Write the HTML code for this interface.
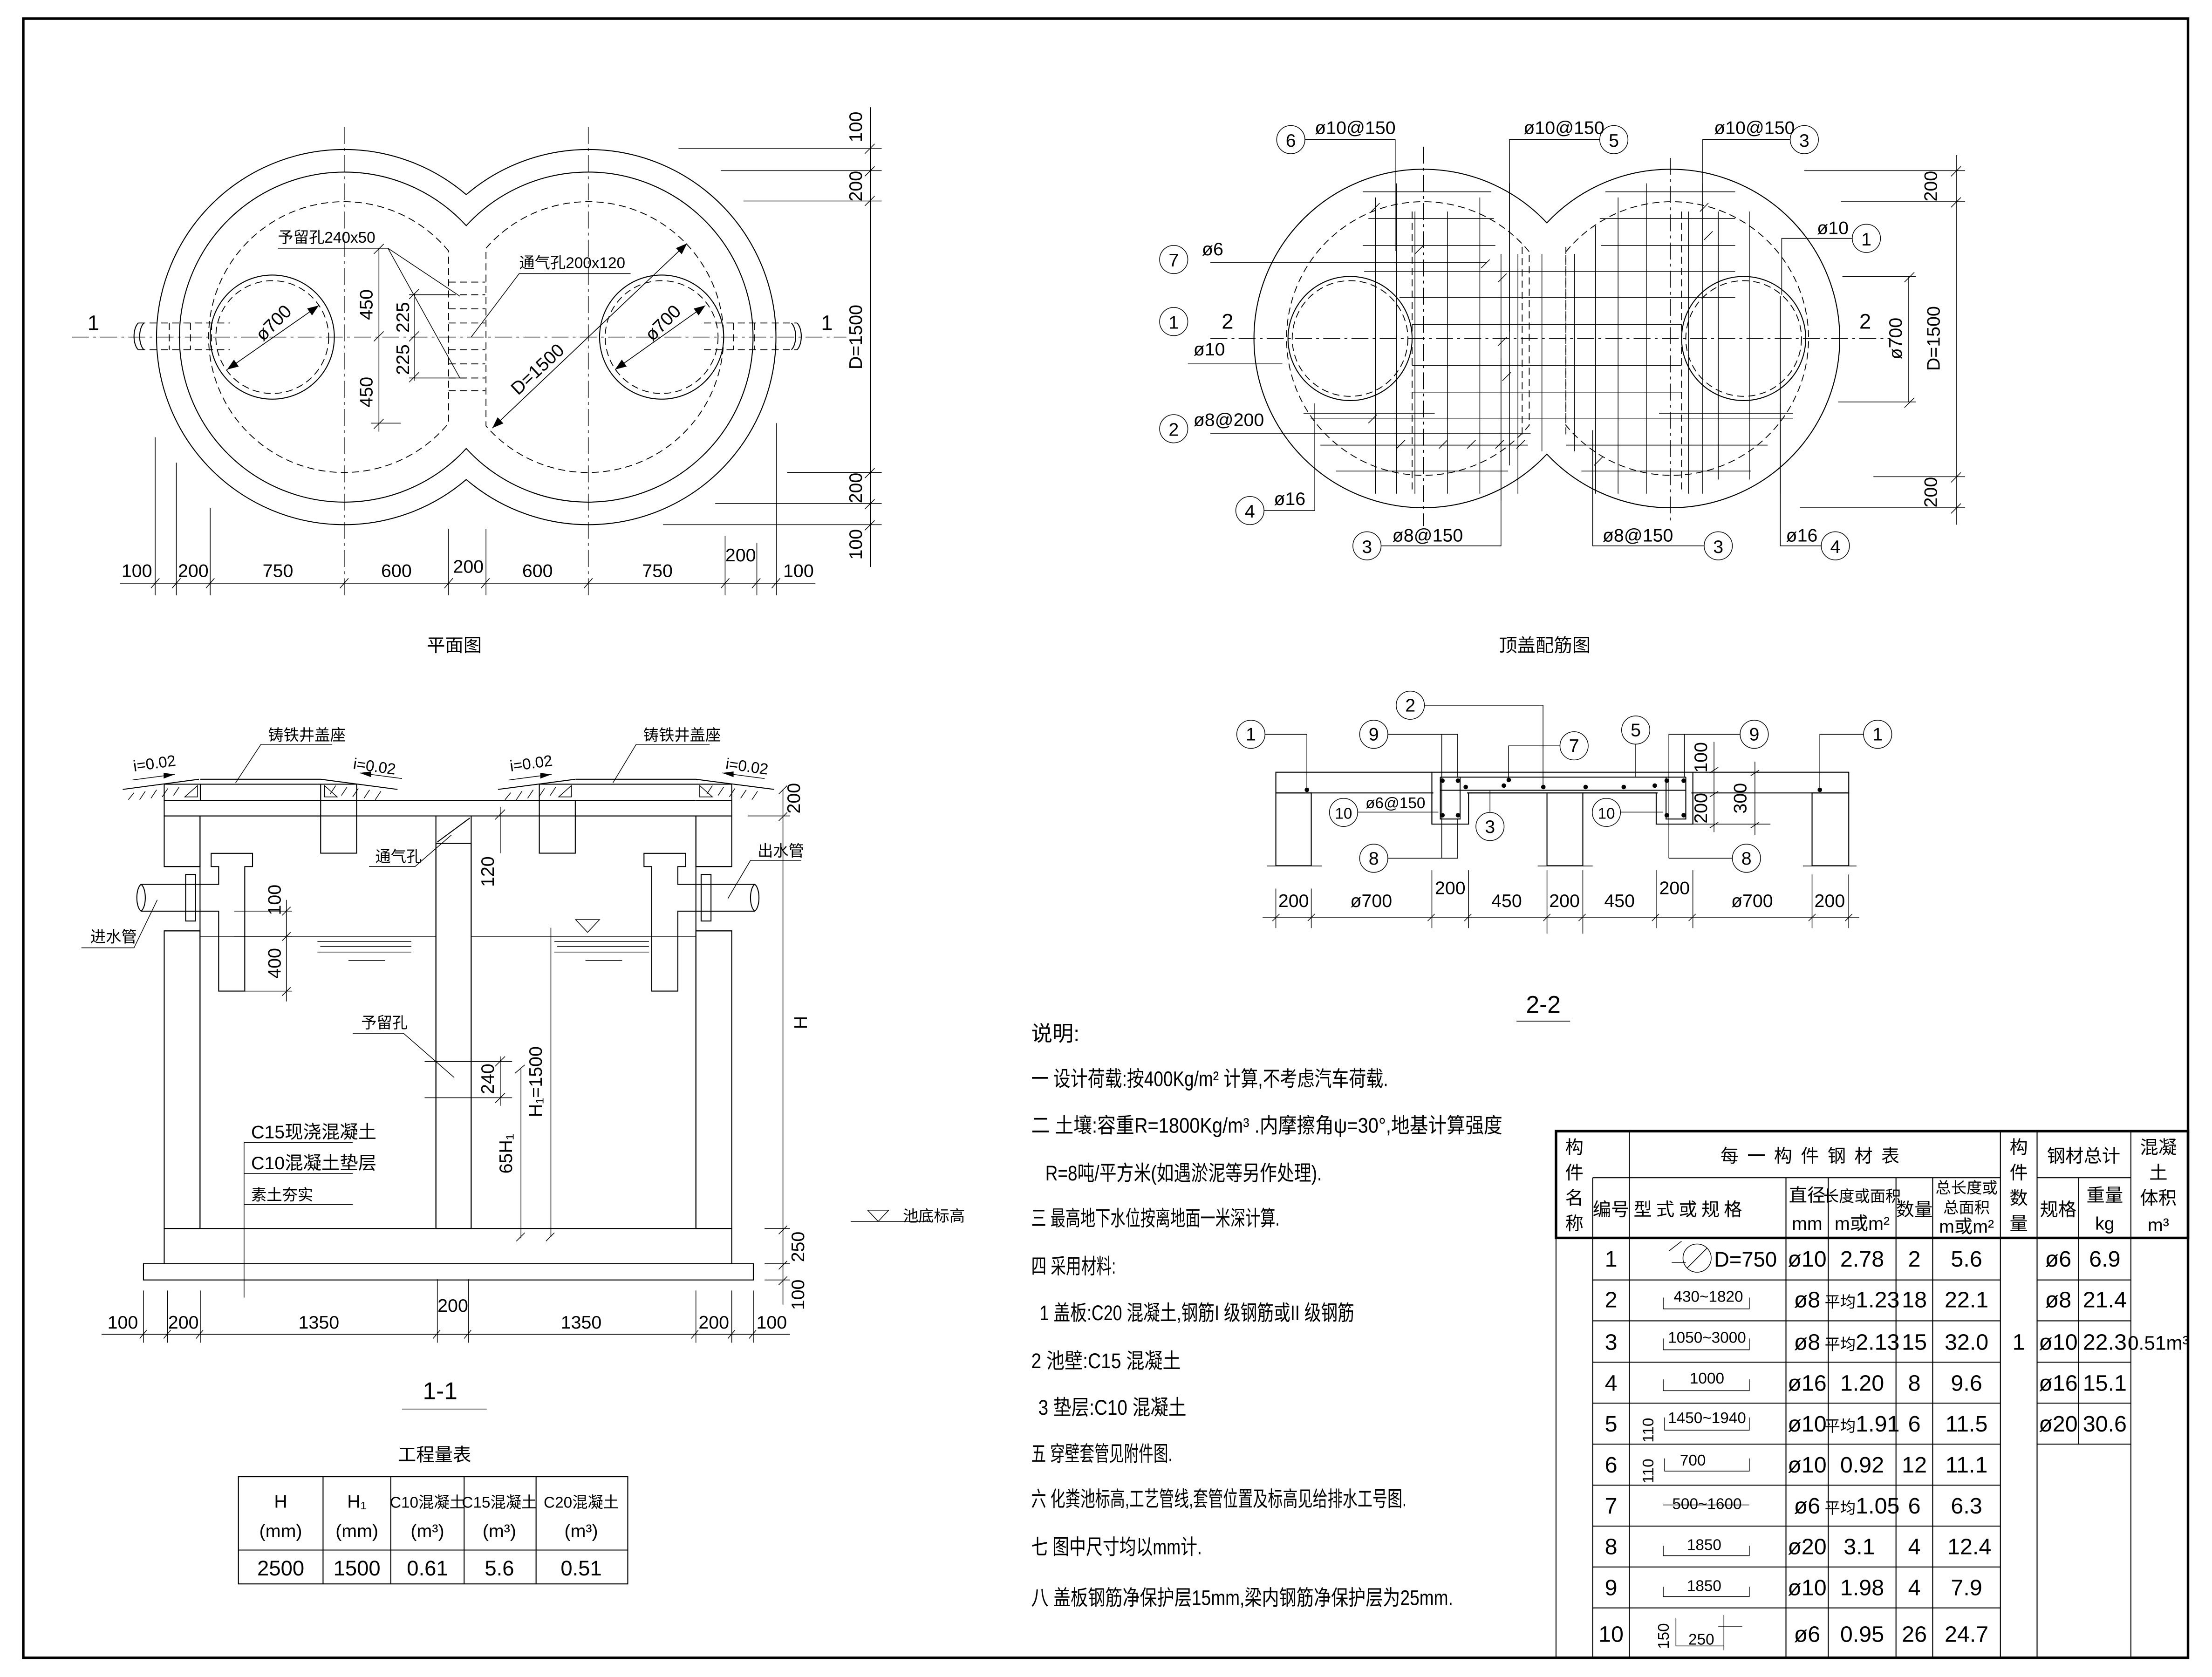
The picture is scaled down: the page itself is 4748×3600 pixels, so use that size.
<!DOCTYPE html>
<html><head><meta charset="utf-8"><style>
html,body{margin:0;padding:0;background:#fff}
svg{display:block}
text{font-family:"Liberation Sans","Noto Sans CJK SC",sans-serif;fill:#000}
.l{stroke:#000;stroke-width:.7;fill:none}
.t{stroke:#000;stroke-width:.5;fill:none}
.d{stroke:#000;stroke-width:.6;fill:none;stroke-dasharray:5 3}
.c{stroke:#000;stroke-width:.5;fill:none;stroke-dasharray:12 3 2 3}
.k{stroke:#000;stroke-width:1.8;fill:none}
.n{font-size:13px}
.s{font-size:11px}
.m{font-size:15px}
</style></head><body>
<svg width="4748" height="3600" viewBox="0 0 1568 1189" preserveAspectRatio="none" xmlns="http://www.w3.org/2000/svg">
<defs>
<pattern id="h" width="6" height="6" patternUnits="userSpaceOnUse" patternTransform="rotate(45)"><line x1="0" y1="0" x2="0" y2="6" stroke="#000" stroke-width=".7"/></pattern>
<pattern id="cc" width="10" height="10" patternUnits="userSpaceOnUse"><circle cx="2" cy="3" r=".55"/><circle cx="7" cy="5" r=".55"/><circle cx="4" cy="8.5" r=".55"/><circle cx="9" cy="9" r=".5"/><circle cx="5" cy="1" r=".45"/><path d="M6,1.5l2,0l-1,2z" fill="none" stroke="#000" stroke-width=".35"/><path d="M0.5,6l2,0l-1,2z" fill="none" stroke="#000" stroke-width=".35"/></pattern>
<marker id="ar" markerWidth="8" markerHeight="6" refX="8" refY="3" orient="auto" markerUnits="userSpaceOnUse"><path d="M0,0L8,3L0,6z"/></marker>
</defs>
<rect x="0" y="0" width="1568" height="1189" fill="#fff"/>
<rect x="16.5" y="13.2" width="1534.5" height="1162.2" class="k"/>

<!-- ================= PLAN VIEW ================= -->
<path class="l" d="M330.5,138 A133,133 0 1,0 330.5,340 A133,133 0 1,0 330.5,138Z"/>
<path class="l" d="M330.5,160 A117,117 0 1,0 330.5,318 A117,117 0 1,0 330.5,160Z"/>
<path class="d" d="M318,178 A96,96 0 1,0 318,300Z"/>
<path class="d" d="M344.5,176 A96,96 0 1,1 344.5,302Z"/>
<circle cx="193" cy="239" r="44" class="l"/><circle cx="193" cy="239" r="40" class="d"/>
<circle cx="469" cy="239" r="44" class="l"/><circle cx="469" cy="239" r="40" class="d"/>
<line x1="51" y1="239" x2="600" y2="239" class="c"/>
<line x1="244" y1="90" x2="244" y2="422" class="c"/>
<line x1="417" y1="90" x2="417" y2="422" class="c"/>
<path class="d" d="M98,229H163M98,248H163M120,229V248M135,229V248M150,229V248"/>
<path class="l" d="M98,229c-4,4-4,15,0,19M102,229c-4,4-4,15,0,19"/>
<path class="d" d="M499,229H565M499,248H565M520,229V248M535,229V248M550,229V248"/>
<path class="l" d="M565,229c4,4,4,15,0,19M561,229c4,4,4,15,0,19"/>
<path class="d" d="M318,200H344M318,209H344M318,219H344M318,229H344M318,248H344M318,258H344M318,268H344M318,277H344"/>
<line x1="268.6" y1="176" x2="268.6" y2="306" class="t"/>
<path class="t" d="M265,180l7,-7M265,242l7,-7M265,304l7,-7M263,300H284"/>
<text class="n" transform="translate(264,216) rotate(-90)" text-anchor="middle">450</text>
<text class="n" transform="translate(264,278) rotate(-90)" text-anchor="middle">450</text>
<line x1="294" y1="208" x2="294" y2="270" class="t"/>
<path class="t" d="M290,212l7,-7M290,242l7,-7M290,271l7,-7M290,268H330M290,209H320"/>
<text class="n" transform="translate(290,225) rotate(-90)" text-anchor="middle">225</text>
<text class="n" transform="translate(290,255) rotate(-90)" text-anchor="middle">225</text>
<text class="s" x="197" y="172">予留孔240x50</text>
<path class="t" d="M197,176H275L326,210M275,176L326,268"/>
<text class="s" x="368" y="190">通气孔200x120</text>
<path class="t" d="M447,194H368L334,239"/>
<line x1="349" y1="303.5" x2="487" y2="172.6" class="t" marker-end="url(#ar)"/>
<line x1="487" y1="172.6" x2="349" y2="303.5" class="t" marker-end="url(#ar)"/>
<text class="n" transform="translate(384,265) rotate(-43)" text-anchor="middle">D=1500</text>
<line x1="161" y1="262" x2="226" y2="216.6" class="t" marker-end="url(#ar)"/>
<line x1="226" y1="216.6" x2="161" y2="262" class="t" marker-end="url(#ar)"/>
<text class="n" transform="translate(197,232) rotate(-45)" text-anchor="middle">ø700</text>
<line x1="436" y1="262" x2="500" y2="216.6" class="t" marker-end="url(#ar)"/>
<line x1="500" y1="216.6" x2="436" y2="262" class="t" marker-end="url(#ar)"/>
<text class="n" transform="translate(473,232) rotate(-45)" text-anchor="middle">ø700</text>
<text class="m" x="62" y="234">1</text><text class="m" x="582" y="234">1</text>
<line x1="617" y1="76" x2="617" y2="402" class="t"/>
<path class="t" d="M481,105.4H625M511,121H625M527,142.5H625M558,335H625M507,357H625M470,372H625M613,109l7,-7M613,125l7,-7M613,146l7,-7M613,339l7,-7M613,361l7,-7M613,376l7,-7"/>
<text class="n" transform="translate(611,90) rotate(-90)" text-anchor="middle">100</text>
<text class="n" transform="translate(611,132) rotate(-90)" text-anchor="middle">200</text>
<text class="n" transform="translate(611,239) rotate(-90)" text-anchor="middle">D=1500</text>
<text class="n" transform="translate(611,346) rotate(-90)" text-anchor="middle">200</text>
<text class="n" transform="translate(611,386) rotate(-90)" text-anchor="middle">100</text>
<line x1="85" y1="413.5" x2="578" y2="413.5" class="t"/>
<path class="t" d="M110,310V422M125,328V422M149,360V422M318,375V422M344.5,375V422M514,380V422M536.5,385V422M550.5,300V422"/>
<path class="t" d="M107,417l6,-7M122,417l6,-7M146,417l6,-7M241,417l6,-7M315,417l6,-7M341,417l6,-7M414,417l6,-7M511,417l6,-7M533,417l6,-7M547,417l6,-7"/>
<g class="n" text-anchor="middle"><text x="97" y="409">100</text><text x="137" y="409">200</text><text x="197" y="409">750</text><text x="281" y="409">600</text><text x="332" y="406">200</text><text x="381" y="409">600</text><text x="466" y="409">750</text><text x="525" y="398">200</text><text x="566" y="409">100</text></g>
<text x="322" y="462" font-size="13" text-anchor="middle">平面图</text>

<!-- ================= REBAR PLAN ================= -->
<path class="l" d="M1096.5,158 A120,120 0 1,0 1096.5,322 A120,120 0 1,0 1096.5,158Z"/>
<path class="d" d="M1084,178.5 A97,97 0 1,0 1084,301.5Z"/>
<path class="d" d="M1110,178.5 A97,97 0 1,1 1110,301.5Z"/>
<circle cx="957" cy="240" r="44" class="l"/><circle cx="957" cy="240" r="41" class="d"/>
<circle cx="1236" cy="240" r="44" class="l"/><circle cx="1236" cy="240" r="41" class="d"/>
<line x1="858" y1="240" x2="1340" y2="240" class="c"/>
<line x1="1009" y1="104" x2="1009" y2="373" class="c"/>
<line x1="1184" y1="112" x2="1184" y2="371" class="c"/>
<g class="t">
<path d="M966,136H1057M970,155H1059M966,174H1060M858,186H1054M967,192.6H1230M992,211H1230M1001,230H1192M1001,259H1192M1001,278H1192M924,293H1017M1176,293H1271M929,297H1271M858,307.5H1085M936,315.6H1083M1110,315.6H1253M947,334H1069M1121,334H1241"/>
<path d="M1138,136H1230M1134,155H1230M1135,174H1230"/>
<path d="M975,140V350M990,130V350M1003,150V350M1026,150V350M1049,140V350M1064,180V355M1070,130V330M1076,180V350M1093,180V320M1116,180V320M1131,160V350M1147,140V350M1167,130V350M1197,150V350M1207,130V350M1218,150V340M1240,150V340M1262,210V350"/>
<path d="M972,150l6,-6M1003,180l6,-6M1050,190l6,-6M1062,200l6,-6M970,300l6,-6M990,318l6,-6M1020,318l6,-6M1040,318l6,-6M1060,318l6,-6M1075,318l6,-6M1130,330l6,-6M1205,150l6,-6M1208,170l6,-6M1062,245l6,-6M1065,270l6,-6"/>
</g>
<path class="d" d="M1001,150V350M1079,175V310M1110,175V310M1192,150V350"/>
<g class="t">
<circle cx="915" cy="99" r="10"/><path d="M925,99H989V178"/>
<circle cx="1144" cy="99" r="10"/><path d="M1134,99H1070V235"/>
<circle cx="1279" cy="99" r="10"/><path d="M1269,99H1207V177"/>
<circle cx="1323" cy="169" r="10"/><path d="M1313,169H1263V209"/>
<circle cx="832" cy="184" r="10"/>
<circle cx="832" cy="228" r="10"/><path d="M842,258H909"/>
<circle cx="832" cy="304" r="10"/>
<circle cx="886" cy="362" r="10"/><path d="M896,362H932V286"/>
<circle cx="969" cy="387" r="10"/><path d="M979,387H1064V254"/>
<circle cx="1218" cy="387" r="10"/><path d="M1208,387H1129V305"/>
<circle cx="1301" cy="387" r="10"/><path d="M1291,387H1262V286"/>
</g>
<g class="n" text-anchor="middle"><text x="915" y="104">6</text><text x="1144" y="104">5</text><text x="1279" y="104">3</text><text x="1323" y="174">1</text><text x="832" y="189">7</text><text x="832" y="233">1</text><text x="832" y="309">2</text><text x="886" y="367">4</text><text x="969" y="392">3</text><text x="1218" y="392">3</text><text x="1301" y="392">4</text></g>
<g class="n"><text x="932" y="95">ø10@150</text><text x="1080" y="95">ø10@150</text><text x="1215" y="95">ø10@150</text><text x="1288" y="166">ø10</text><text x="852" y="181">ø6</text><text x="846" y="252">ø10</text><text x="846" y="302">ø8@200</text><text x="903" y="358">ø16</text><text x="987" y="384">ø8@150</text><text x="1136" y="384">ø8@150</text><text x="1266" y="384">ø16</text></g>
<text class="m" x="866" y="233">2</text><text class="m" x="1318" y="233">2</text>
<line x1="1387" y1="110" x2="1387" y2="372" class="t"/>
<path class="t" d="M1279,121H1393M1305,143H1393M1328,338H1393M1276,360H1393M1383,125l7,-7M1383,147l7,-7M1383,342l7,-7M1383,364l7,-7"/>
<text class="n" transform="translate(1373,132) rotate(-90)" text-anchor="middle">200</text>
<text class="n" transform="translate(1375,240) rotate(-90)" text-anchor="middle">D=1500</text>
<text class="n" transform="translate(1373,349) rotate(-90)" text-anchor="middle">200</text>
<line x1="1353" y1="196" x2="1353" y2="285" class="t"/>
<path class="t" d="M1306,196H1358M1303,285H1358M1350,200l7,-7M1350,289l7,-7"/>
<text class="n" transform="translate(1348,240) rotate(-90)" text-anchor="middle">ø700</text>
<text x="1095" y="462" font-size="13" text-anchor="middle">顶盖配筋图</text>

<!-- ================= SECTION 1-1 ================= -->
<rect x="116.4" y="567.5" width="402.3" height="11" fill="url(#h)" class="l"/>
<rect x="142" y="567.6" width="85.3" height="10.8" fill="#fff"/>
<rect x="408" y="567.6" width="85.3" height="10.8" fill="#fff"/>
<path class="l" d="M142,567.5H227M142,578.5H227M408,567.5H493M408,578.5H493"/>
<rect x="227.3" y="567.5" width="25.5" height="37.4" fill="url(#h)" class="l"/>
<rect x="382.3" y="567.5" width="25.5" height="37.4" fill="url(#h)" class="l"/>
<rect x="116.4" y="578.5" width="25.4" height="35.9" fill="url(#cc)" class="l"/>
<rect x="116.4" y="660" width="25.4" height="211" fill="url(#cc)" class="l"/>
<rect x="493.3" y="578.5" width="25.4" height="35.9" fill="url(#cc)" class="l"/>
<rect x="493.3" y="660" width="25.4" height="211" fill="url(#cc)" class="l"/>
<rect x="309" y="598" width="25" height="273" fill="url(#cc)" class="l"/>
<path class="l" d="M309,578.5V598M334,578.5V598M310,597L333,580"/>
<rect x="116.4" y="871" width="402.3" height="25" fill="url(#cc)" class="l"/>
<rect x="141.8" y="870" width="167.2" height="2" fill="#fff"/><rect x="334" y="870" width="159.3" height="2" fill="#fff"/>
<path class="l" d="M141.8,871H309M334,871H493.3M141.8,578.5V871M493.3,578.5V871M309,598V871M334,598V871"/>
<rect x="101.7" y="896" width="432.3" height="11.5" fill="url(#cc)" class="l"/>
<path class="l" d="M142,552.5H227.3M142,556H227.3M408,552.5H493.3M408,556H493.3M116.4,567.5V556H142V567.5M227.3,567.5V556M252.8,567.5V556H227.3M382.3,567.5V556H408M493.3,556H518.7V567.5"/>
<path class="t" d="M131,565l9,-8v8zM230,565l0,-8l9,8zM396,565l9,-8v8zM496,565l0,-8l9,8z"/>
<path class="l" d="M87,559.7L141,552.5M227.3,552.5L281.8,559.7M353,559.7L407.8,552.5M493.3,552.5L548.8,559.7"/>
<path class="t" d="M95,562l-4,5M103,561l-4,6M111,560l-4,6M119,559l-4,6M127,558l-4,6M238,557l-4,6M246,558l-4,6M254,559l-4,6M262,560l-4,6M270,561l-4,6M362,562l-4,5M370,561l-4,6M378,560l-4,6M386,559l-4,6M394,558l-4,6M505,557l-4,6M513,558l-4,6M521,559l-4,6M529,560l-4,6M537,561l-4,6"/>
<g class="s"><text transform="translate(95,547) rotate(-8)">i=0.02</text><text transform="translate(250,545) rotate(8)">i=0.02</text><text transform="translate(362,547) rotate(-8)">i=0.02</text><text transform="translate(514,545) rotate(8)">i=0.02</text></g>
<path class="t" d="M94,553L124,549M255,548L285,552M361,553L391,549M512,548L542,552"/>
<path d="M124,549l-8,-1v4zM255,548l8,3v-4zM391,549l-8,-1v4zM512,548l8,3v-4z"/>
<text class="s" x="190" y="525">铸铁井盖座</text><text class="s" x="456" y="525">铸铁井盖座</text>
<path class="t" d="M185,527.7H235.5M185,527.7L167,555M451,527.7H503M451,527.7L434.5,555"/>
<path class="l" d="M100,627H155V614.4H149.7V605H179V614.4H173.5V702.7H155V646H100"/>
<path class="l" d="M100,627c-4,3-4,16,0,19c4,-3,4,-16,0,-19"/>
<rect x="131.6" y="620" width="7" height="33" class="l" fill="#fff"/>
<path class="l" d="M535,627H480.5V614.4H486V605H456.5V614.4H462V702.7H480.5V646H535"/>
<path class="l" d="M535,627c-4,3-4,16,0,19c4,-3,4,-16,0,-19"/>
<rect x="497" y="620" width="7" height="33" class="l" fill="#fff"/>
<path class="l" d="M116.4,614.4H141.8M116.4,660H141.8M493.3,614.4H518.7M493.3,660H518.7"/>
<path class="t" d="M142,663.8H309M334,663.8H493.3M225,667.5H291.6M227,671H291.6M225,675H291.6M247,681H273M393,667.5H460M395,671H460M393,675H460M415,681H441"/>
<path class="t" d="M408,652H425L416.5,661z"/>
<path class="t" d="M203,638V710M166,646H207M166,663.8H207M166,702.7H207M200,649l6,-6M200,667l6,-6M200,706l6,-6"/>
<text class="n" transform="translate(199,638) rotate(-90)" text-anchor="middle">100</text>
<text class="n" transform="translate(199,683) rotate(-90)" text-anchor="middle">400</text>
<path class="t" d="M354.6,572V605M351,581l7,-7"/>
<text class="n" transform="translate(350,618) rotate(-90)" text-anchor="middle">120</text>
<path class="t" d="M354.6,749V784M301,752.6H363M301,778.3H363M351,756l7,-7M351,782l7,-7"/>
<text class="n" transform="translate(350,765) rotate(-90)" text-anchor="middle">240</text>
<path class="t" d="M369.3,758V878M366,880l6,-6M365,761l7,-6M390.5,657.8V877M387,880l6,-6"/>
<text class="n" transform="translate(384,767) rotate(-90)" text-anchor="middle">H₁=1500</text>
<text class="n" transform="translate(363,818) rotate(-90)" text-anchor="middle">65H₁</text>
<text class="s" x="256" y="729">予留孔</text><path class="t" d="M250,732.6H286L322,764"/>
<text class="s" x="266" y="611">通气孔</text><path class="t" d="M261.6,614.4H294.2L320,592"/>
<text class="s" x="64" y="668">进水管</text><path class="t" d="M57.7,672H95L111.5,638"/>
<text class="s" x="537" y="607">出水管</text><path class="t" d="M532,610H568M532,610L516,637"/>
<text class="n" x="178" y="807">C15现浇混凝土</text>
<text class="n" x="178" y="829">C10混凝土垫层</text>
<text class="s" x="178" y="851">素土夯实</text>
<path class="t" d="M173,810H250M173,832H250M173,854H250M173,810V920"/>
<path class="t" d="M555,560V925M542,871H560M542,896H560M542,907.5H560M530,578.5H560M552,563l6,-6M552,582l6,-6M552,875l6,-6M552,900l6,-6M552,911l6,-6"/>
<text class="n" transform="translate(567,566) rotate(-90)" text-anchor="middle">200</text>
<text class="n" transform="translate(572,725) rotate(-90)" text-anchor="middle">H</text>
<text class="n" transform="translate(570,884) rotate(-90)" text-anchor="middle">250</text>
<text class="n" transform="translate(570,918) rotate(-90)" text-anchor="middle">100</text>
<path class="t" d="M603,866H660M615,858H630L622.5,866z"/>
<text class="s" x="640" y="866">池底标高</text>
<path class="t" d="M72,946H560M101.7,915V952M118.7,915V952M142,915V952M310,907V952M332,907V952M493.3,915V952M518.7,915V952M534,915V952"/>
<path class="t" d="M99,949l5,-6M116,949l5,-6M139,949l5,-6M307,949l5,-6M329,949l5,-6M490,949l5,-6M516,949l5,-6M531,949l5,-6"/>
<g class="n" text-anchor="middle"><text x="87" y="942">100</text><text x="130" y="942">200</text><text x="226" y="942">1350</text><text x="321" y="930">200</text><text x="412" y="942">1350</text><text x="506" y="942">200</text><text x="547" y="942">100</text></g>
<text x="312" y="992" font-size="17" text-anchor="middle">1-1</text>
<line x1="285" y1="999" x2="345" y2="999" class="t"/>
<text x="308" y="1036" font-size="13" text-anchor="middle">工程量表</text>
<path class="l" d="M169,1047H445V1123H169ZM169,1099H445M229,1047V1123M277,1047V1123M329,1047V1123M380,1047V1123"/>
<g class="n" text-anchor="middle">
<text x="199" y="1069">H</text><text x="199" y="1090">(mm)</text>
<text x="253" y="1069">H₁</text><text x="253" y="1090">(mm)</text>
<text x="303" y="1069" font-size="11">C10混凝土</text><text x="303" y="1090">(m³)</text>
<text x="354" y="1069" font-size="11">C15混凝土</text><text x="354" y="1090">(m³)</text>
<text x="412" y="1069" font-size="11">C20混凝土</text><text x="412" y="1090">(m³)</text>
<text x="199" y="1117" font-size="15">2500</text><text x="253" y="1117" font-size="15">1500</text><text x="303" y="1117" font-size="15">0.61</text><text x="354" y="1117" font-size="15">5.6</text><text x="412" y="1117" font-size="15">0.51</text>
</g>

<!-- ================= SECTION 2-2 ================= -->
<rect x="904.4" y="547.5" width="406.1" height="14.7" class="l"/>
<rect x="904.4" y="562.2" width="25.1" height="51.6" fill="url(#cc)" class="l"/>
<rect x="1096.6" y="562.2" width="25.4" height="51.6" fill="url(#cc)" class="l"/>
<rect x="1284.5" y="562.2" width="26" height="51.6" fill="url(#cc)" class="l"/>
<rect x="1015" y="562.2" width="26" height="22.1" fill="#fff" class="l"/>
<rect x="1174" y="562.2" width="26" height="22.1" fill="#fff" class="l"/>
<rect x="1016" y="560.6" width="24" height="3" fill="#fff"/><rect x="1175" y="560.6" width="24" height="3" fill="#fff"/>
<path class="l" d="M1015,547.5V584.3M1200,547.5V584.3M1041,562.2H1096.6M1122,562.2H1174"/>
<path class="l" d="M1021,551H1195M1021,560.3H1195M1021,551V580.7H1035V551M1181,551V580.7H1195V551"/>
<g><circle cx="1022.5" cy="553.5" r="1.6"/><circle cx="1033.5" cy="553.5" r="1.6"/><circle cx="1022.5" cy="578" r="1.6"/><circle cx="1033.5" cy="578" r="1.6"/><circle cx="1181.5" cy="553.5" r="1.6"/><circle cx="1193.5" cy="553.5" r="1.6"/><circle cx="1181.5" cy="578" r="1.6"/><circle cx="1193.5" cy="578" r="1.6"/><circle cx="1039" cy="558" r="1.6"/><circle cx="1069.5" cy="553" r="1.6"/><circle cx="1066" cy="557" r="1.6"/><circle cx="1094" cy="558" r="1.6"/><circle cx="1124" cy="558" r="1.6"/><circle cx="1151" cy="558" r="1.6"/><circle cx="1173" cy="557" r="1.6"/><circle cx="926.4" cy="560" r="1.6"/><circle cx="1290" cy="560" r="1.6"/></g>
<path class="t" d="M898,614H937M1090,614H1129M1278,614H1316"/>
<g class="t">
<circle cx="886.7" cy="520.6" r="10"/><path d="M896.7,520.6H926.4V560"/>
<circle cx="973.8" cy="520.6" r="10"/><path d="M983.8,520.6H1033.3V551M1022,520.6V608.5"/>
<circle cx="999.7" cy="500" r="10"/><path d="M1009.7,500H1093.8V557.7"/>
<circle cx="1115.8" cy="528.8" r="10"/><path d="M1105.8,528.8H1069.4V551.8"/>
<circle cx="1159.5" cy="517.6" r="10"/><path d="M1159.5,527.6V551"/>
<circle cx="1243.5" cy="520.6" r="10"/><path d="M1233.5,520.6H1183V608.5M1194,520.6V551"/>
<circle cx="1331" cy="520.6" r="10"/><path d="M1321,520.6H1290V560"/>
<circle cx="952.4" cy="576" r="10"/><path d="M962.4,575.8H1019.6"/>
<circle cx="1056.2" cy="586" r="10"/><path d="M1056.2,576V560.3"/>
<circle cx="1138.7" cy="576" r="10"/><path d="M1148.7,575.8H1179"/>
<circle cx="973.8" cy="608.5" r="10"/><path d="M983.8,608.5H1033.3V580.7"/>
<circle cx="1238" cy="608.5" r="10"/><path d="M1228,608.5H1183"/>
</g>
<g class="n" text-anchor="middle"><text x="886.7" y="525">1</text><text x="973.8" y="525">9</text><text x="999.7" y="504.5">2</text><text x="1115.8" y="533">7</text><text x="1159.5" y="522">5</text><text x="1243.5" y="525">9</text><text x="1331" y="525">1</text><text x="952.4" y="580.5" font-size="11">10</text><text x="1056.2" y="590.5">3</text><text x="1138.7" y="580.5" font-size="11">10</text><text x="973.8" y="613">8</text><text x="1238" y="613">8</text></g>
<text class="s" x="968" y="573">ø6@150</text>
<path class="t" d="M1215,526V590M1244,540V592M1200,584.3H1255M1212,548l6,-4M1212,565l6,-4M1212,587l6,-4M1241,550l6,-4M1241,587l6,-4"/>
<text class="n" transform="translate(1210,537) rotate(-90)" text-anchor="middle">100</text>
<text class="n" transform="translate(1210,573) rotate(-90)" text-anchor="middle">200</text>
<text class="n" transform="translate(1238,566) rotate(-90)" text-anchor="middle">300</text>
<path class="t" d="M895,650.3H1318M904.4,630V658M929.5,630V658M1015,617V658M1041,617V658M1096.6,617V662M1122,617V662M1174,617V658M1200,617V658M1284.5,620V658M1310.5,620V658"/>
<path class="t" d="M902,653l5,-5M927,653l5,-5M1012,653l5,-5M1038,653l5,-5M1094,653l5,-5M1119,653l5,-5M1171,653l5,-5M1197,653l5,-5M1282,653l5,-5M1308,653l5,-5"/>
<g class="n" text-anchor="middle"><text x="917" y="643">200</text><text x="972" y="643">ø700</text><text x="1028" y="634">200</text><text x="1068" y="643">450</text><text x="1109" y="643">200</text><text x="1148" y="643">450</text><text x="1187" y="634">200</text><text x="1242" y="643">ø700</text><text x="1297" y="643">200</text></g>
<text x="1094" y="718" font-size="17" text-anchor="middle">2-2</text>
<line x1="1075" y1="724" x2="1113" y2="724" class="t"/>

<!-- ================= NOTES ================= -->
<g font-size="15">
<text x="731" y="738">说明:</text>
<text x="731" y="770" textLength="253" lengthAdjust="spacingAndGlyphs">一 设计荷载:按400Kg/m² 计算,不考虑汽车荷载.</text>
<text x="731" y="803" textLength="334" lengthAdjust="spacingAndGlyphs">二 土壤:容重R=1800Kg/m³ .内摩擦角ψ=30°,地基计算强度</text>
<text x="741" y="837" textLength="196" lengthAdjust="spacingAndGlyphs">R=8吨/平方米(如遇淤泥等另作处理).</text>
<text x="731" y="869" textLength="176" lengthAdjust="spacingAndGlyphs">三 最高地下水位按离地面一米深计算.</text>
<text x="731" y="903" textLength="60" lengthAdjust="spacingAndGlyphs">四 采用材料:</text>
<text x="737" y="936" textLength="223" lengthAdjust="spacingAndGlyphs">1 盖板:C20 混凝土,钢筋I 级钢筋或II 级钢筋</text>
<text x="731" y="970" textLength="106" lengthAdjust="spacingAndGlyphs">2 池壁:C15 混凝土</text>
<text x="736" y="1003" textLength="105" lengthAdjust="spacingAndGlyphs">3 垫层:C10 混凝土</text>
<text x="731" y="1036" textLength="100" lengthAdjust="spacingAndGlyphs">五 穿壁套管见附件图.</text>
<text x="731" y="1068" textLength="266" lengthAdjust="spacingAndGlyphs">六 化粪池标高,工艺管线,套管位置及标高见给排水工号图.</text>
<text x="731" y="1102" textLength="121" lengthAdjust="spacingAndGlyphs">七 图中尺寸均以mm计.</text>
<text x="731" y="1138" textLength="299" lengthAdjust="spacingAndGlyphs">八 盖板钢筋净保护层15mm,梁内钢筋净保护层为25mm.</text>
</g>

<!-- ================= STEEL TABLE ================= -->
<g class="l">
<path d="M1103,1175.4V802H1551M1129,835V1175.4M1155,802V1175.4M1266,835V1175.4M1296,835V1175.4M1344,835V1175.4M1370,835V1175.4M1418,802V1175.4M1444,802V1175.4M1473.5,835V1023.9M1510.5,802V1175.4M1129,835H1418M1444,835H1510.5"/>
<path d="M1129,907.5H1418M1129,936.5H1418M1129,965.8H1418M1129,994.8H1418M1129,1023.9H1418M1129,1053H1418M1129,1082H1418M1129,1111H1418M1129,1140H1418"/>
<path d="M1444,907.5H1510.5M1444,936.5H1510.5M1444,965.8H1510.5M1444,994.8H1510.5M1444,1023.9H1510.5"/>
</g>
<path class="k" d="M1103,802H1551V877.7H1103ZM1103,1175.4H1551"/>
<g font-size="13" text-anchor="middle">
<text x="1116" y="818">构</text><text x="1116" y="836">件</text><text x="1116" y="854">名</text><text x="1116" y="872">称</text>
<text x="1431" y="818">构</text><text x="1431" y="836">件</text><text x="1431" y="854">数</text><text x="1431" y="872">量</text>
<text x="1286" y="824" letter-spacing="6">每一构件钢材表</text>
<text x="1142" y="862">编号</text>
<text x="1198" y="862" letter-spacing="3">型式或规格</text>
<text x="1281" y="852">直径</text><text x="1281" y="872">mm</text>
<text x="1320" y="852" font-size="11">长度或面积</text><text x="1320" y="872">m或m²</text>
<text x="1357" y="862">数量</text>
<text x="1394" y="846" font-size="11">总长度或</text><text x="1394" y="860" font-size="11">总面积</text><text x="1394" y="874">m或m²</text>
<text x="1477" y="824">钢材总计</text>
<text x="1459" y="862">规格</text>
<text x="1492" y="852">重量</text><text x="1492" y="872">kg</text>
<text x="1530" y="818">混凝</text><text x="1530" y="836">土</text><text x="1530" y="854">体积</text><text x="1530" y="873">m³</text>
</g>
<g font-size="16" text-anchor="middle">
<text x="1142" y="898">1</text><text x="1142" y="927">2</text><text x="1142" y="957">3</text><text x="1142" y="986">4</text><text x="1142" y="1015">5</text><text x="1142" y="1044">6</text><text x="1142" y="1073">7</text><text x="1142" y="1102">8</text><text x="1142" y="1131">9</text><text x="1142" y="1164">10</text>
<text x="1281" y="898">ø10</text><text x="1281" y="927">ø8</text><text x="1281" y="957">ø8</text><text x="1281" y="986">ø16</text><text x="1281" y="1015">ø10</text><text x="1281" y="1044">ø10</text><text x="1281" y="1073">ø6</text><text x="1281" y="1102">ø20</text><text x="1281" y="1131">ø10</text><text x="1281" y="1164">ø6</text>
<text x="1320" y="898">2.78</text><text x="1320" y="927"><tspan font-size="11">平均</tspan>1.23</text><text x="1320" y="957"><tspan font-size="11">平均</tspan>2.13</text><text x="1320" y="986">1.20</text><text x="1320" y="1015"><tspan font-size="11">平均</tspan>1.91</text><text x="1320" y="1044">0.92</text><text x="1320" y="1073"><tspan font-size="11">平均</tspan>1.05</text><text x="1318" y="1102">3.1</text><text x="1320" y="1131">1.98</text><text x="1320" y="1164">0.95</text>
<text x="1357" y="898">2</text><text x="1357" y="927">18</text><text x="1357" y="957">15</text><text x="1357" y="986">8</text><text x="1357" y="1015">6</text><text x="1357" y="1044">12</text><text x="1357" y="1073">6</text><text x="1357" y="1102">4</text><text x="1357" y="1131">4</text><text x="1357" y="1164">26</text>
<text x="1394" y="898">5.6</text><text x="1394" y="927">22.1</text><text x="1394" y="957">32.0</text><text x="1394" y="986">9.6</text><text x="1394" y="1015">11.5</text><text x="1394" y="1044">11.1</text><text x="1394" y="1073">6.3</text><text x="1396" y="1102">12.4</text><text x="1394" y="1131">7.9</text><text x="1394" y="1164">24.7</text>
<text x="1431" y="957">1</text>
<text x="1459" y="898">ø6</text><text x="1459" y="927">ø8</text><text x="1459" y="957">ø10</text><text x="1459" y="986">ø16</text><text x="1459" y="1015">ø20</text>
<text x="1492" y="898">6.9</text><text x="1492" y="927">21.4</text><text x="1492" y="957">22.3</text><text x="1492" y="986">15.1</text><text x="1492" y="1015">30.6</text>
<text x="1530" y="957" font-size="14">0.51m³</text>
</g>
<g class="t">
<circle cx="1203" cy="892" r="10"/><path d="M1196,899L1210,885M1183,887L1192,880M1185,895L1195,895"/>
<path d="M1179,920V928H1240V920M1179,949V957H1240V949M1179,978V986H1240V978M1180,1005V1014H1240V1005M1180,1034V1043H1240V1034M1179,1067H1240M1179,1096V1103H1240V1096M1179,1125V1132H1240V1125"/>
<path d="M1188,1147V1167H1222V1147M1222,1145V1170M1218,1153H1235"/>
</g>
<g font-size="11" text-anchor="middle">
<text x="1211" y="923">430~1820</text><text x="1210" y="952">1050~3000</text><text x="1210" y="981">1000</text><text x="1210" y="1009">1450~1940</text><text x="1200" y="1039">700</text><text x="1210" y="1070">500~1600</text><text x="1208" y="1099">1850</text><text x="1208" y="1128">1850</text><text x="1206" y="1166">250</text>
<text transform="translate(1172,1014) rotate(-90)">110</text><text transform="translate(1172,1043) rotate(-90)">110</text><text transform="translate(1183,1160) rotate(-90)">150</text>
</g>
<text x="1215" y="898" font-size="15">D=750</text>
</svg>
</body></html>
